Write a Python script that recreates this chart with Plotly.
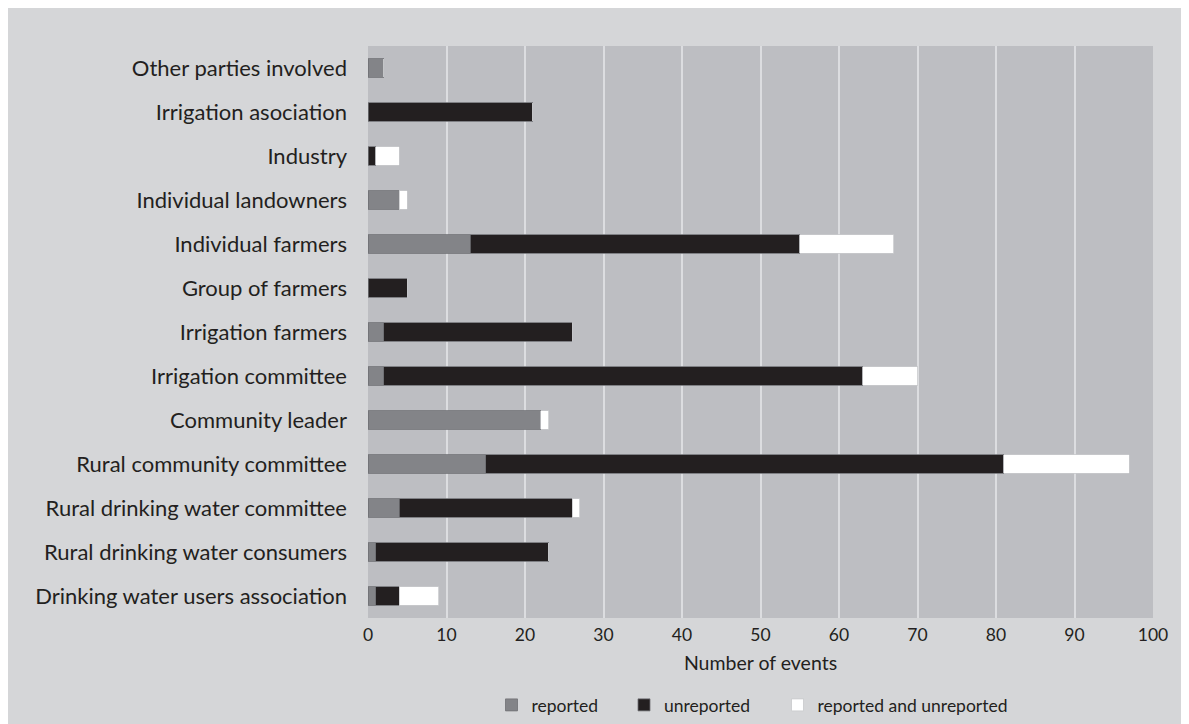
import plotly.graph_objects as go

categories = [
    "Drinking water users association",
    "Rural drinking water consumers",
    "Rural drinking water committee",
    "Rural community committee",
    "Community leader",
    "Irrigation committee",
    "Irrigation farmers",
    "Group of farmers",
    "Individual farmers",
    "Individual landowners",
    "Industry",
    "Irrigation asociation",
    "Other parties involved",
]
reported = [1, 1, 4, 15, 22, 2, 2, 0, 13, 4, 0, 0, 2]
unreported = [3, 22, 22, 66, 0, 61, 24, 5, 42, 0, 1, 21, 0]
both = [5, 0, 1, 16, 1, 7, 0, 0, 12, 1, 3, 0, 0]
x_ticks = [0, 10, 20, 30, 40, 50, 60, 70, 80, 90, 100]

FONT = "Lato, 'Open Sans', sans-serif"
TXT = "#231f20"

fig = go.Figure()
series = [
    ("reported", reported, "#838488", "#6f7074", "legend"),
    ("unreported", unreported, "#231f20", "#6f7074", "legend2"),
    ("reported and unreported", both, "#ffffff", "#c8c9cc", "legend3"),
]
for name, vals, col, lcol, lg in series:
    fig.add_trace(go.Bar(
        y=categories, x=vals, name=name, orientation="h", legend=lg,
        marker=dict(color=col, line=dict(color=lcol, width=0.8)),
    ))

L, R, T, B = 360, 44, 38, 114
PW = 1189 - L - R
PH = 724 - T - B
leg_y = (PH + T - 697) / PH


def leg(xpx):
    return dict(orientation="h", x=(xpx - L) / PW, xanchor="left", y=leg_y,
                yanchor="middle", font=dict(size=17.5, color=TXT),
                bgcolor="rgba(0,0,0,0)", itemwidth=30)


fig.update_layout(
    width=1189, height=724,
    margin=dict(l=L, r=R, t=T, b=B, autoexpand=False),
    paper_bgcolor="#d5d6d8",
    plot_bgcolor="#bdbec2",
    barmode="stack",
    bargap=0.59,
    font=dict(family=FONT, color=TXT),
    showlegend=True,
    legend=leg(483.5),
    legend2=leg(616),
    legend3=leg(769.5),
    xaxis=dict(range=[0, 100], tickvals=x_ticks, ticktext=[str(v) for v in x_ticks],
               showgrid=False, zeroline=False, showline=False,
               ticks="", tickfont=dict(size=17.5, color=TXT), ticklabelstandoff=4,
               minor=dict(tickvals=x_ticks[1:-1], showgrid=True,
                          gridcolor="#dcdde0", gridwidth=2),
               title=dict(text="Number of events", font=dict(size=19.5, color=TXT), standoff=12),
               fixedrange=True),
    yaxis=dict(categoryorder="array", categoryarray=categories,
               showgrid=False, zeroline=False, showline=False, ticks="",
               tickfont=dict(size=22, color=TXT), ticklabelstandoff=20,
               fixedrange=True),
)

fig.write_html("out.html")
